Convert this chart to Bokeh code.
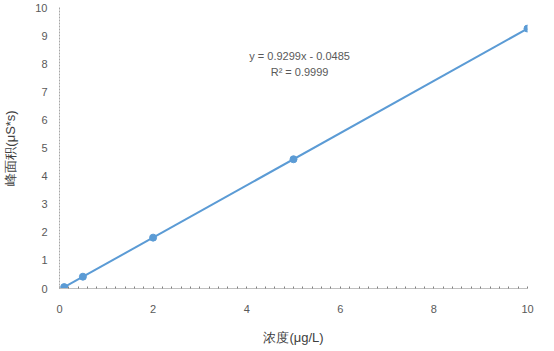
import numpy as np
from bokeh.plotting import figure
from bokeh.models import Range1d, FixedTicker, Label
from bokeh.embed import file_html
from bokeh.resources import INLINE

conc = [0.1, 0.5, 2, 5, 10]
area = [0.05, 0.42, 1.81, 4.60, 9.25]
x_ticks = [0, 2, 4, 6, 8, 10]
y_ticks = list(range(0, 11))
eq_text = "y = 0.9299x - 0.0485"
r2_text = "R² = 0.9999"
x_title = "浓度(μg/L)"
y_title = "峰面积(μS*s)"

FONT = "Liberation Sans"
GRAY = "#595959"
BLUE = "#5B9BD5"

p = figure(width=538, height=347, output_backend="svg", toolbar_location=None,
           x_range=Range1d(0, 10), y_range=Range1d(0, 10),
           min_border_left=59, min_border_right=11, min_border_top=7, min_border_bottom=57)
p.outline_line_color = None
p.xgrid.grid_line_color = None
p.ygrid.grid_line_color = None

# trendline
k, b = np.polyfit(conc, area, 1)
xs = np.array([min(conc), max(conc)])
p.line(xs, k * xs + b, line_color=BLUE, line_width=2)
p.scatter(conc, area, size=7, fill_color=BLUE, line_color=BLUE)

p.xaxis.ticker = FixedTicker(ticks=x_ticks, minor_ticks=list(np.arange(0, 10.01, 0.2)))
p.yaxis.ticker = FixedTicker(ticks=y_ticks)
for ax in (p.xaxis, p.yaxis):
    ax.major_label_text_font = FONT
    ax.major_label_text_font_size = "11px"
    ax.major_label_text_color = GRAY
    ax.axis_label_text_font = FONT
    ax.axis_label_text_font_size = "13px"
    ax.axis_label_text_font_style = "normal"
    ax.axis_label_text_color = "#404040"
    ax.major_tick_out = 0
    ax.major_tick_in = 0
    ax.minor_tick_out = 0
p.xaxis.minor_tick_in = 2
p.xaxis.minor_tick_line_color = "#808080"
p.yaxis.minor_tick_line_color = None
p.xaxis.axis_line_color = "#BFBFBF"
p.yaxis.axis_line_color = "#A6A6A6"
p.yaxis.axis_line_dash = "2 1"
p.xaxis.major_label_standoff = 16
p.yaxis.major_label_standoff = 12
p.xaxis.axis_label = x_title
p.xaxis.axis_label_standoff = 14
p.yaxis.axis_label = y_title
p.yaxis.axis_label_standoff = 14

p.add_layout(Label(x=5.13, y=8.27, text=eq_text, text_align="center", text_baseline="middle",
                   text_font=FONT, text_font_size="11px", text_color=GRAY))
p.add_layout(Label(x=5.13, y=7.70, text=r2_text, text_align="center", text_baseline="middle",
                   text_font=FONT, text_font_size="11px", text_color=GRAY))

open("out.html", "w").write(file_html(p, INLINE))
